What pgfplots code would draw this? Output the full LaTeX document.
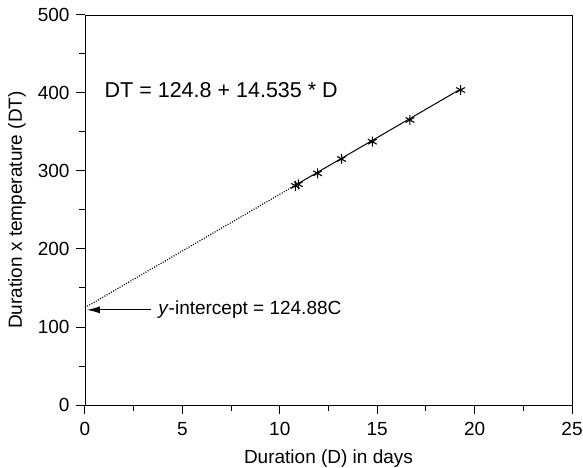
\documentclass[border=0pt]{standalone}
\usepackage{pgfplots}
\pgfplotsset{compat=1.18}
\usetikzlibrary{arrows.meta}
\usepackage{fontspec}
\setmainfont{Liberation Sans}
\begin{document}
\fontsize{19}{23}\selectfont
\begin{tikzpicture}
\begin{axis}[
  scale only axis,
  width=487pt, height=390pt,
  xmin=0, xmax=25, ymin=0, ymax=500,
  xtick={0,5,...,25}, ytick={0,100,...,500},
  minor xtick={2.5,7.5,...,22.5}, minor ytick={50,150,...,450},
  axis line style={line width=0.9pt},
  every tick/.style={line width=1pt, black},
  major tick length=9pt, minor tick length=6pt,
  tick align=outside,
  xtick pos=bottom, ytick pos=left,
  /pgf/number format/assume math mode=true,
  ticklabel style={font=\fontsize{19}{23}\selectfont},
  xticklabel style={yshift=-2pt},
  label style={font=\fontsize{19}{23}\selectfont},
  xlabel={Duration (D) in days},
  ylabel={Duration x temperature (DT)},
  xlabel style={yshift=-0.5pt},
  ylabel style={yshift=-1pt},
  clip=false,
]
\addplot[dash pattern=on 1pt off 1.5pt, line width=1.2pt] coordinates {(0,124.88) (10.8,281.8)};
\addplot[line width=1pt] coordinates {(10.8,281.8) (19.3,405.3)};
\addplot[only marks, mark=asterisk, mark size=5pt, mark options={line width=1.1pt}] coordinates {
(10.8,281) (10.95,283) (11.94,297) (13.17,315.4) (14.75,337.6) (16.68,365.4) (19.28,403.8)};
\draw[-{Latex[length=13pt,width=7pt]}, line width=1pt] (axis cs:3.4,122) -- (axis cs:0.1,122);
\node[anchor=west, inner sep=0pt] at (axis cs:3.75,122) {\textit{y}-intercept = 124.88C};
\node[anchor=west, inner sep=0pt] at (axis cs:1.0,404) {\fontsize{21.5}{25}\selectfont DT = 124.8 + 14.535 * D};
\coordinate (A) at (rel axis cs:0,0);
\coordinate (B) at (rel axis cs:1,1);
\end{axis}
\pgfresetboundingbox
\useasboundingbox ([xshift=-85pt,yshift=-63pt]A) rectangle ([xshift=11pt,yshift=15pt]B);
\end{tikzpicture}
\end{document}
